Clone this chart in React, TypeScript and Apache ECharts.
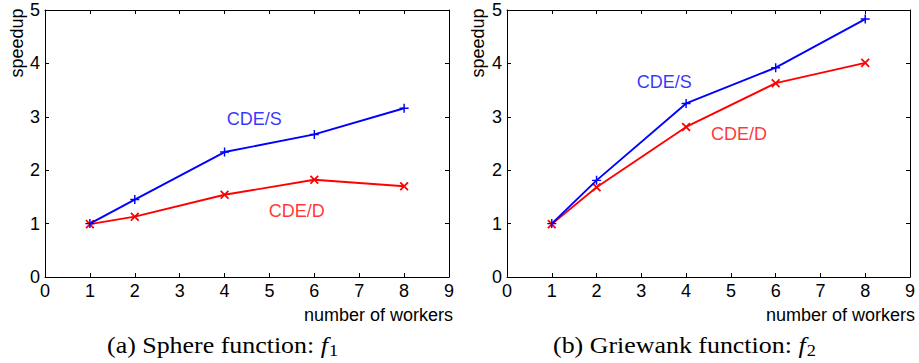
import React, { useEffect, useRef } from "react";
import * as echarts from "echarts";

const workers = [1, 2, 4, 6, 8];
const sphereS = [1.0, 1.45, 2.34, 2.67, 3.16];
const sphereD = [0.99, 1.13, 1.54, 1.82, 1.7];
const griewankS = [1.0, 1.81, 3.25, 3.92, 4.83];
const griewankD = [0.99, 1.68, 2.81, 3.63, 4.01];
const xTicks = [0, 1, 2, 3, 4, 5, 6, 7, 8, 9];
const yTicks = [0, 1, 2, 3, 4, 5];
const seriesNames = ["CDE/S", "CDE/D"];
// annotation positions in data coordinates [x, y]
const labelPosA = [[4.66, 2.96], [5.61, 1.24]];
const labelPosB = [[3.51, 3.65], [5.18, 2.68]];
const captions = ["(a) Sphere function: ", "(b) Griewank function: "];
const captionSubs = ["1", "2"];

const BLUE = "#0000ff";
const RED = "#ff0000";
const SANS = "'Liberation Sans', Arial, Helvetica, sans-serif";
const SERIF = "'Liberation Serif', 'Times New Roman', serif";
const PLUS = "path://M4.2,0h1.6v4.2h4.2v1.6h-4.2v4.2h-1.6v-4.2h-4.2v-1.6h4.2z";

export default function App() {
  const ref = useRef<HTMLDivElement>(null);
  useEffect(() => {
    if (!ref.current) return;
    const chart = echarts.init(ref.current, null, { renderer: "svg" });
    const grids = [
      { left: 45, top: 10, width: 404, height: 267 },
      { left: 507, top: 10, width: 403, height: 267 },
    ];
    const xAxes: any[] = [];
    const yAxes: any[] = [];
    grids.forEach((_, gi) => {
      const base = {
        gridIndex: gi,
        type: "value",
        min: xTicks[0],
        max: xTicks[xTicks.length - 1],
        interval: 1,
        axisLine: { show: true, onZero: false, lineStyle: { color: "#000", width: 1 } },
        axisTick: { show: true, inside: true, length: 4, lineStyle: { color: "#000" } },
        splitLine: { show: false },
      };
      xAxes.push({
        ...base,
        position: "bottom",
        axisLabel: { show: true, color: "#000", fontSize: 18, fontFamily: SANS, margin: 5 },
      });
      xAxes.push({ ...base, position: "top", axisLabel: { show: false } });
      const ybase = {
        gridIndex: gi,
        type: "value",
        min: yTicks[0],
        max: yTicks[yTicks.length - 1],
        interval: 1,
        axisLine: { show: true, onZero: false, lineStyle: { color: "#000", width: 1 } },
        axisTick: { show: true, inside: true, length: 4, lineStyle: { color: "#000" } },
        splitLine: { show: false },
      };
      yAxes.push({
        ...ybase,
        position: "left",
        axisLabel: { show: true, color: "#000", fontSize: 18, fontFamily: SANS, margin: 5 },
      });
      yAxes.push({ ...ybase, position: "right", axisLabel: { show: false } });
    });

    const lineSeries = (xi: number, yi: number, ys: number[], color: string, rot: number, size: number) => ({
      type: "line",
      xAxisIndex: xi,
      yAxisIndex: yi,
      data: workers.map((w, i) => [w, ys[i]]),
      symbol: PLUS,
      symbolSize: size,
      symbolRotate: rot,
      showAllSymbol: true,
      lineStyle: { color, width: 1.9 },
      itemStyle: { color },
      z: rot ? 3 : 4,
    });

    const labelSeries = (xi: number, yi: number, pos: number[][]) => ({
      type: "scatter",
      xAxisIndex: xi,
      yAxisIndex: yi,
      symbolSize: 1,
      itemStyle: { color: "transparent" },
      data: pos.map((p, i) => ({ value: p, name: seriesNames[i], label: { color: i === 0 ? BLUE : RED } })),
      label: {
        show: true,
        position: "inside",
        formatter: (p: any) => p.name,
        fontSize: 18,
        fontFamily: SANS,
      },
      silent: true,
      z: 5,
    });

    const captionText = (x: number, idx: number) => ({
      type: "text",
      x,
      y: 345,
      scaleX: 1.08,
      style: {
        text: captions[idx] + "{f|f}{s|" + captionSubs[idx] + "}",
        font: "24px " + SERIF,
        fill: "#000",
        verticalAlign: "middle",
        align: "left",
        rich: {
          f: { fontStyle: "italic", fontSize: 24, fontFamily: SERIF },
          s: { fontSize: 17, fontFamily: SERIF, padding: [10, 0, 0, 1] },
        },
      },
    });

    chart.setOption({
      animation: false,
      backgroundColor: "#fff",
      grid: grids,
      xAxis: xAxes,
      yAxis: yAxes,
      series: [
        lineSeries(0, 0, sphereD, RED, 45, 11),
        lineSeries(0, 0, sphereS, BLUE, 0, 9),
        lineSeries(2, 2, griewankD, RED, 45, 11),
        lineSeries(2, 2, griewankS, BLUE, 0, 9),
        labelSeries(0, 0, labelPosA),
        labelSeries(2, 2, labelPosB),
      ],
      graphic: [
        { type: "text", x: 17, y: 43, rotation: Math.PI / 2, style: { text: "speedup", font: "18px " + SANS, fill: "#000", align: "center", verticalAlign: "middle" } },
        { type: "text", x: 478, y: 43, rotation: Math.PI / 2, style: { text: "speedup", font: "18px " + SANS, fill: "#000", align: "center", verticalAlign: "middle" } },
        { type: "text", x: 453, y: 315, style: { text: "number of workers", font: "18px " + SANS, fill: "#000", align: "right", verticalAlign: "middle" } },
        { type: "text", x: 915, y: 315, style: { text: "number of workers", font: "18px " + SANS, fill: "#000", align: "right", verticalAlign: "middle" } },
        captionText(107, 0),
        captionText(553, 1),
      ],
    });
    return () => chart.dispose();
  }, []);
  return <div ref={ref} style={{ width: 919, height: 363, position: "absolute", left: 0, top: 0 }} />;
}
